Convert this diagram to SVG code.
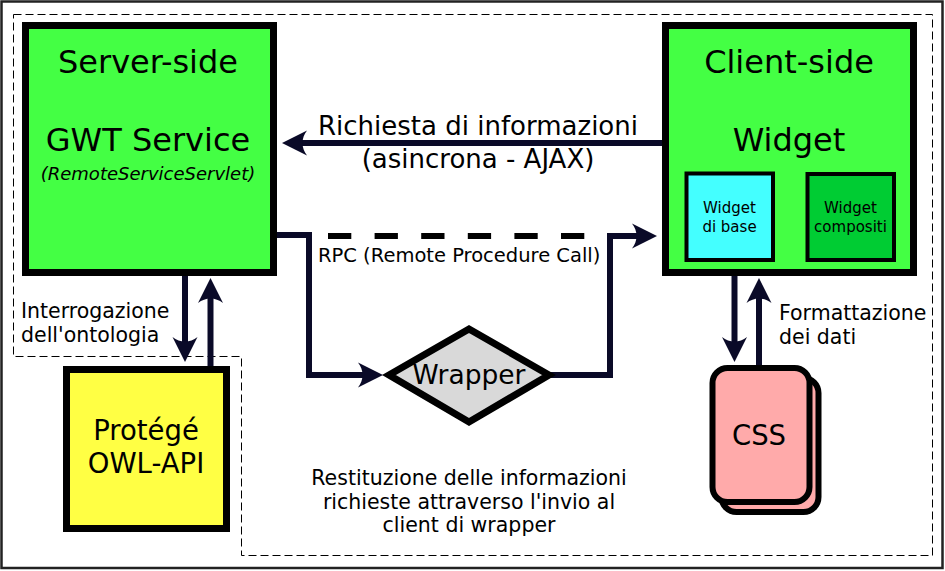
<svg xmlns="http://www.w3.org/2000/svg" width="945" height="571" viewBox="0 0 945 571">
<style>
  text { font-family: "DejaVu Sans", "Noto Sans", sans-serif; fill: #000; }
  .box { stroke: #000; stroke-width: 7; }
  .sub { stroke: #000; stroke-width: 4; }
  .conn { fill: none; stroke: #0a0a28; stroke-width: 6; }
  .lbl { font-size: 20.5px; }
  .mid { text-anchor: middle; }
</style>
<defs>
  <marker id="ah" markerUnits="userSpaceOnUse" viewBox="-27 -14 28 28" markerWidth="28" markerHeight="28" refX="-12" refY="0" orient="auto">
    <path d="M0,0 L-25,-12.5 C-19,-5 -19,5 -25,12.5 Z" fill="#0a0a28"/>
  </marker>
</defs>
<rect x="1.5" y="1.5" width="941" height="566.5" fill="#fff" stroke="#222" stroke-width="2.5"/>
<path d="M13.5,14.5 H932.5 V555.5 H241.5 V356.5 H13.5 Z" fill="none" stroke="#000" stroke-width="1" stroke-dasharray="8,4"/>

<g id="connectors">
  <path class="conn" d="M662,143 H294" marker-end="url(#ah)"/>
  <path class="conn" d="M277,235 H309 V375 H371" marker-end="url(#ah)"/>
  <path class="conn" d="M549,375 H610 V236 H645" marker-end="url(#ah)"/>
  <path d="M328,236 H586" fill="none" stroke="#000" stroke-width="6" stroke-dasharray="23.3,23.3"/>
  <path class="conn" d="M185,276 V350" marker-end="url(#ah)"/>
  <path class="conn" d="M210.5,366 V290" marker-end="url(#ah)"/>
  <path class="conn" d="M734.5,276 V350" marker-end="url(#ah)"/>
  <path class="conn" d="M759,366 V290" marker-end="url(#ah)"/>
  <text x="478" y="135" class="mid" font-size="26">Richiesta di informazioni</text>
  <text x="478" y="168" class="mid" font-size="26">(asincrona - AJAX)</text>
  <text x="318" y="262" font-size="19.5">RPC (Remote Procedure Call)</text>
  <text x="21" y="318" class="lbl">Interrogazione</text>
  <text x="21" y="341.5" class="lbl">dell'ontologia</text>
  <text x="779" y="320" class="lbl">Formattazione</text>
  <text x="779" y="343.5" class="lbl">dei dati</text>
  <text x="469" y="485" class="mid lbl">Restituzione delle informazioni</text>
  <text x="469" y="508.5" class="mid lbl">richieste attraverso l'invio al</text>
  <text x="469" y="532" class="mid lbl">client di wrapper</text>
</g>

<g id="server">
  <rect class="box" x="25.5" y="25.5" width="248" height="247" fill="#44ff44"/>
  <text x="148" y="73" class="mid" font-size="32">Server-side</text>
  <text x="148" y="151" class="mid" font-size="32">GWT Service</text>
  <text x="148" y="180" class="mid" font-size="18" font-style="italic">(RemoteServiceServlet)</text>
</g>

<g id="client">
  <rect class="box" x="665.5" y="25.5" width="248" height="247" fill="#44ff44"/>
  <text x="789" y="73" class="mid" font-size="32">Client-side</text>
  <text x="789" y="151" class="mid" font-size="32">Widget</text>
</g>

<g id="widget-base">
  <rect class="sub" x="686.5" y="173.5" width="86.5" height="86.5" fill="#44ffff"/>
  <text x="729.5" y="213" class="mid" font-size="15">Widget</text>
  <text x="729.5" y="232" class="mid" font-size="15">di base</text>
</g>

<g id="widget-compositi">
  <rect class="sub" x="807.5" y="174" width="86.5" height="86" fill="#00cc33"/>
  <text x="850.5" y="213" class="mid" font-size="15">Widget</text>
  <text x="850.5" y="232" class="mid" font-size="15">compositi</text>
</g>

<g id="wrapper">
  <path d="M389,375 L469,329 L549,375 L469,422 Z" fill="#d9d9d9" stroke="#000" stroke-width="7" stroke-linejoin="miter"/>
  <text x="469" y="384" class="mid" font-size="26.5">Wrapper</text>
</g>

<g id="protege">
  <rect class="box" x="66.5" y="369.5" width="160" height="159" fill="#ffff44"/>
  <text x="146" y="440" class="mid" font-size="27.5">Protégé</text>
  <text x="146" y="473" class="mid" font-size="27.5">OWL-API</text>
</g>

<g id="css">
  <rect x="721.5" y="378" width="97" height="134" rx="15" fill="#ffaaaa" stroke="#000" stroke-width="6"/>
  <rect x="712.5" y="368" width="97" height="134" rx="15" fill="#ffaaaa" stroke="#000" stroke-width="6"/>
  <text x="759" y="445" class="mid" font-size="27.5">CSS</text>
</g>
</svg>
